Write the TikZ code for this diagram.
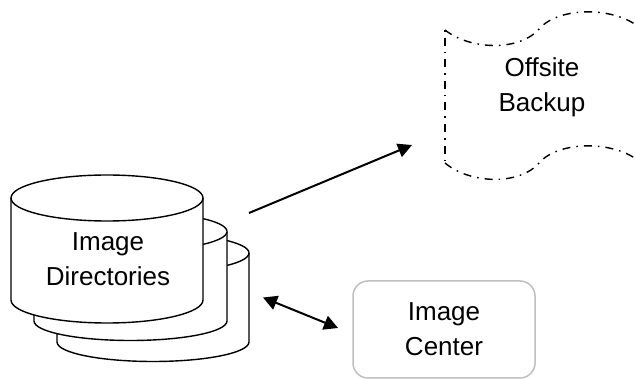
\documentclass[tikz,border=0pt]{standalone}
\usepackage{fontspec}
\setmainfont{Liberation Sans}
\usetikzlibrary{arrows.meta}
\tikzset{
  x=1pt,y=-1pt,
  cyl/.style={draw=black,fill=white,line width=1.4pt,line join=round},
  wave/.style={draw=black,line width=1.4pt,dash pattern=on 8pt off 6pt on 1.6pt off 6pt},
  label/.style={align=center,font=\fontsize{26}{35}\selectfont,inner sep=0pt},
  conn/.style={line width=2pt,-{Triangle[length=14pt,width=14pt]}},
  conn2/.style={line width=2pt,{Triangle[length=14pt,width=14.5pt]}-{Triangle[length=14pt,width=14.5pt]}},
  centerbox/.style={draw=black!25,line width=1.5pt,rounded corners=15pt},
}
\newcommand{\drum}[5]{% left, right, top centre y, bottom centre y, b
  \path[cyl] (#1,#3) arc[start angle=180,end angle=360,x radius={(#2-#1)/2},y radius=#5]
    -- (#2,#4) arc[start angle=0,end angle=180,x radius={(#2-#1)/2},y radius=#5] -- cycle;
  \path[cyl] (#1,#3) arc[start angle=180,end angle=0,x radius={(#2-#1)/2},y radius=#5];
}
\begin{document}
\begin{tikzpicture}
\useasboundingbox (0,0) rectangle (635,379);
\clip (0,0) rectangle (635,379);
\drum{57}{249}{253}{342}{19.5}
\drum{34}{227}{231.5}{321}{19.5}
\drum{11}{203}{198}{300}{23}
\node[label] (dirs) at (108,259.5) {Image\\Directories};

\path[wave] (445,30) .. controls (470,50) and (520,52) .. (540,28)
  .. controls (560,6.5) and (615,6.5) .. (640,28);
\path[wave,dash phase=14pt] (445,30) -- (445,163);
\path[wave] (445,163) .. controls (470,184) and (520,186) .. (540,162)
  .. controls (560,140.5) and (615,140.5) .. (640,162);
\node[label] (backup) at (542,87) {Offsite\\Backup};

\draw[centerbox] (353,281) rectangle (535,378);
\node[label] (center) at (444,329) {Image\\Center};

\coordinate (a1) at (249,213);
\coordinate (a2) at (412,145);
\coordinate (b1) at (263,297.5);
\coordinate (b2) at (338,328);
\draw[conn] (a1) -- (a2);
\draw[conn2] (b1) -- (b2);
\end{tikzpicture}
\end{document}
